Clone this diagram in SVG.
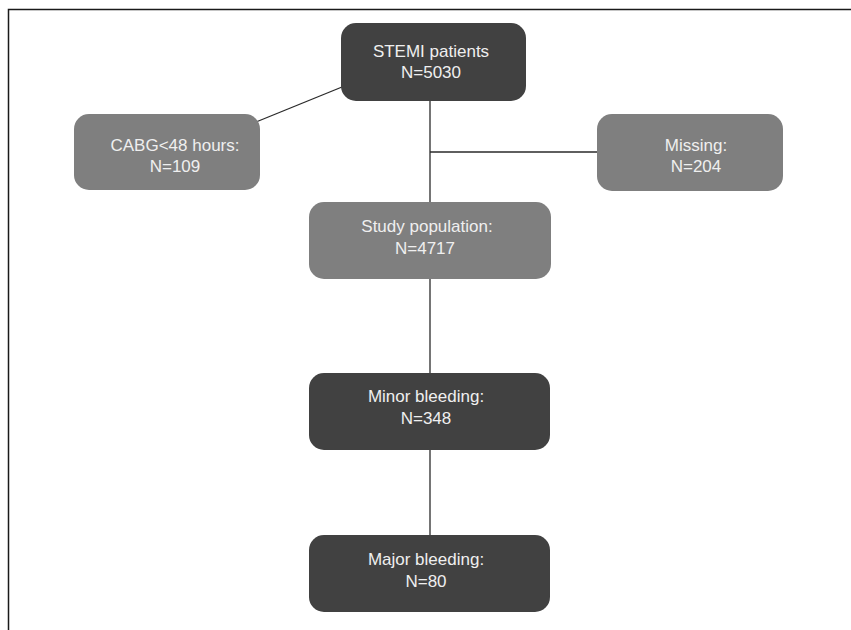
<svg xmlns="http://www.w3.org/2000/svg" width="851" height="630" viewBox="0 0 851 630">
  <style>
    .dark { fill: #414141; }
    .mid { fill: #7f7f7f; }
    .lbl { font-family: "Liberation Sans", Arial, sans-serif; font-size: 17px; fill: #efefef; text-anchor: middle; }
    .edge { stroke: #2a2a2a; stroke-width: 1.3; fill: none; }
    .frame { stroke: #1a1a1a; stroke-width: 1.5; fill: none; }
  </style>
  <rect width="851" height="630" fill="#ffffff"/>
  <!-- page frame (top and left rules) -->
  <path class="frame" d="M8.5 630 V9.5 H851"/>

  <g id="connectors">
    <line class="edge" x1="342" y1="87" x2="256" y2="122"/>
    <line class="edge" x1="430" y1="100" x2="430" y2="203"/>
    <line class="edge" x1="430" y1="152" x2="598" y2="152"/>
    <line class="edge" x1="430" y1="278" x2="430" y2="374"/>
    <line class="edge" x1="430" y1="449" x2="430" y2="536"/>
  </g>

  <g id="stemi">
    <rect class="dark" x="341" y="23" width="185" height="78" rx="15"/>
    <text class="lbl" x="431" y="57">STEMI patients</text>
    <text class="lbl" x="431" y="78">N=5030</text>
  </g>

  <g id="cabg">
    <rect class="mid" x="74" y="114" width="186" height="76" rx="15"/>
    <text class="lbl" x="175" y="151">CABG&lt;48 hours:</text>
    <text class="lbl" x="175" y="172">N=109</text>
  </g>

  <g id="missing">
    <rect class="mid" x="597" y="114" width="186" height="77" rx="15"/>
    <text class="lbl" x="696" y="151">Missing:</text>
    <text class="lbl" x="696" y="172">N=204</text>
  </g>

  <g id="study">
    <rect class="mid" x="309" y="202" width="242" height="77" rx="15"/>
    <text class="lbl" x="427" y="232">Study population:</text>
    <text class="lbl" x="425" y="254">N=4717</text>
  </g>

  <g id="minor">
    <rect class="dark" x="309" y="373" width="241" height="77" rx="15"/>
    <text class="lbl" x="426" y="402">Minor bleeding:</text>
    <text class="lbl" x="426" y="424">N=348</text>
  </g>

  <g id="major">
    <rect class="dark" x="309" y="535" width="241" height="77" rx="15"/>
    <text class="lbl" x="426" y="565">Major bleeding:</text>
    <text class="lbl" x="426" y="587">N=80</text>
  </g>
</svg>
